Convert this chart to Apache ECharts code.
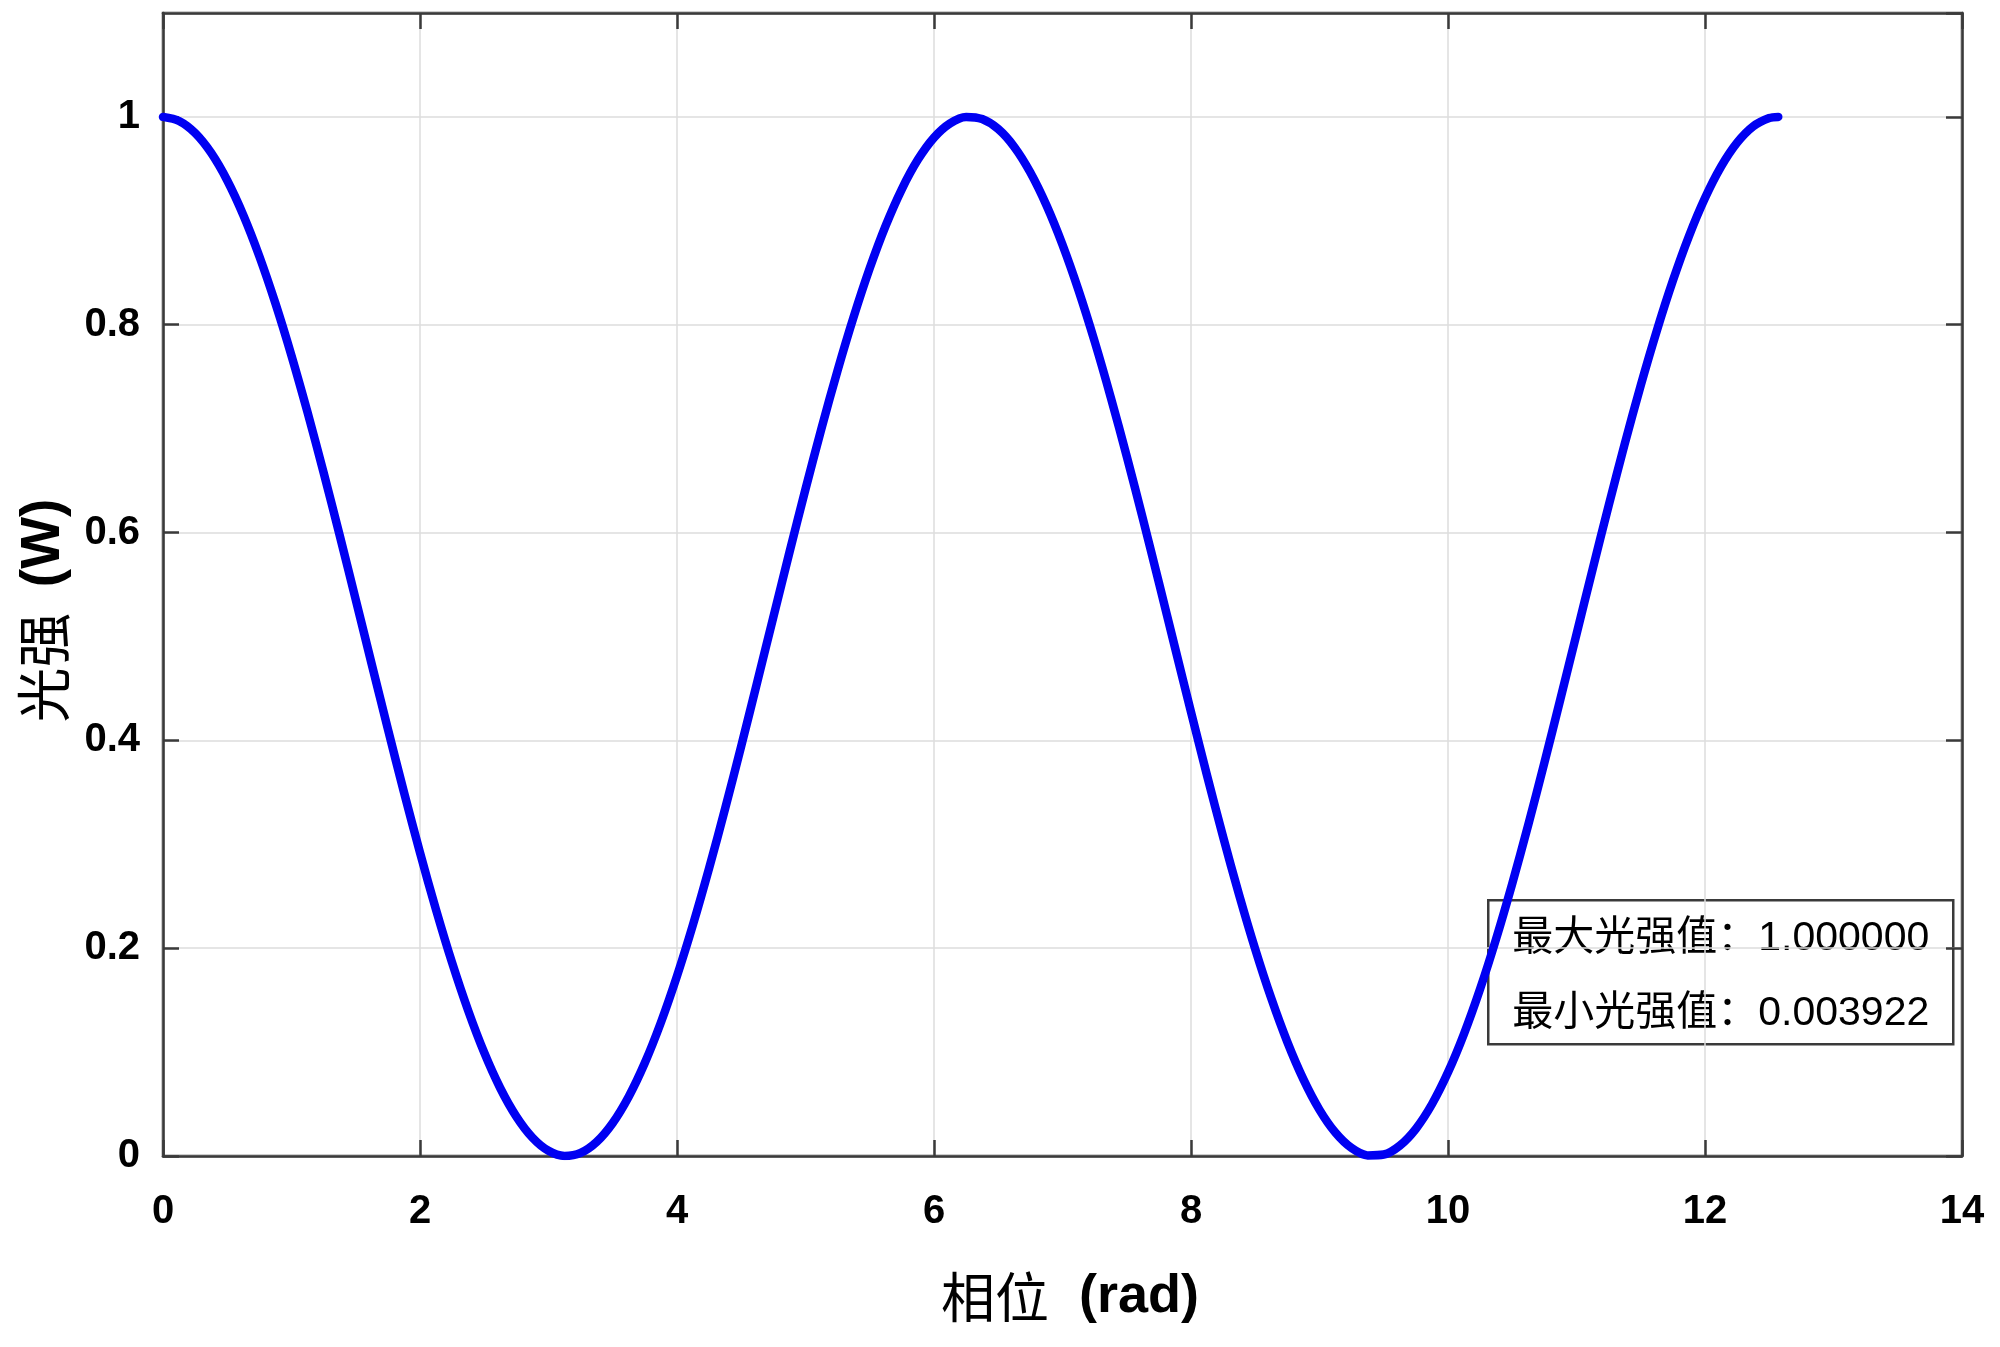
<!DOCTYPE html>
<html>
<head>
<meta charset="utf-8">
<style>
  html, body { margin: 0; padding: 0; background: #fff; }
  #chart { width: 2000px; height: 1347px; }
</style>
<script src="https://cdn.jsdelivr.net/npm/echarts@6/dist/echarts.min.js"></script>
</head>
<body>
<div id="chart"></div>
<script>
  // 相位 (rad)
  const phase = [
    0, 0.125, 0.25, 0.375, 0.5, 0.625, 0.75, 0.875, 1.0, 1.125, 1.25, 1.375, 1.5, 1.625, 1.75, 1.875,
    2.0, 2.125, 2.25, 2.375, 2.5, 2.625, 2.75, 2.875, 3.0, 3.125, 3.25, 3.375, 3.5, 3.625, 3.75, 3.875,
    4.0, 4.125, 4.25, 4.375, 4.5, 4.625, 4.75, 4.875, 5.0, 5.125, 5.25, 5.375, 5.5, 5.625, 5.75, 5.875,
    6.0, 6.125, 6.25, 6.375, 6.5, 6.625, 6.75, 6.875, 7.0, 7.125, 7.25, 7.375, 7.5, 7.625, 7.75, 7.875,
    8.0, 8.125, 8.25, 8.375, 8.5, 8.625, 8.75, 8.875, 9.0, 9.125, 9.25, 9.375, 9.5, 9.625, 9.75, 9.875,
    10.0, 10.125, 10.25, 10.375, 10.5, 10.625, 10.75, 10.875, 11.0, 11.125, 11.25, 11.375, 11.5, 11.625, 11.75, 11.875,
    12.0, 12.125, 12.25, 12.375, 12.5, 12.57];
  // 光强 (W)
  const intensity = [
    1.0, 0.9961, 0.9845, 0.9653, 0.9388, 0.9055, 0.8658, 0.8205, 0.7702, 0.7156, 0.6577, 0.5973, 0.5354, 0.4729, 0.4109, 0.3502,
    0.2919, 0.2369, 0.1859, 0.1399, 0.0994, 0.0652, 0.0379, 0.0177, 0.0050, 0.0001, 0.0030, 0.0136, 0.0318, 0.0573, 0.0897, 0.1286,
    0.1732, 0.2229, 0.2770, 0.3345, 0.3946, 0.4564, 0.5188, 0.5809, 0.6418, 0.7005, 0.7561, 0.8076, 0.8544, 0.8956, 0.9306, 0.9589,
    0.9801, 0.9938, 1.0, 0.9979, 0.9883, 0.9711, 0.9465, 0.9150, 0.8770, 0.8331, 0.7840, 0.7304, 0.6733, 0.6135, 0.5519, 0.4895,
    0.4273, 0.3661, 0.3071, 0.2511, 0.1990, 0.1516, 0.1096, 0.0737, 0.0444, 0.0223, 0.0076, 0.0006, 0.0014, 0.0100, 0.0262, 0.0498,
    0.0805, 0.1177, 0.1608, 0.2092, 0.2622, 0.3189, 0.3784, 0.4399, 0.5022, 0.5645, 0.6258, 0.6852, 0.7417, 0.7943, 0.8424, 0.8852,
    0.9219, 0.9521, 0.9752, 0.9909, 0.9989, 1.0];
  const infoLines = ['最大光强值：1.000000', '最小光强值：0.003922'];

  const chart = echarts.init(document.getElementById('chart'));

  const latin = "'Liberation Sans', Arial, 'Noto Sans CJK SC', sans-serif";
  const cjk = "'Noto Sans CJK SC', 'Liberation Sans', sans-serif";

  // 每个轴单独生成样式对象
  function axisLine() {
    return { show: true, onZero: false, lineStyle: { color: '#3a3a3a', width: 2.5 } };
  }
  function axisTick() {
    return { show: true, inside: true, length: 16, lineStyle: { color: '#3a3a3a', width: 2.5 } };
  }
  function gridLine() {
    return { show: true, lineStyle: { color: '#dcdcdc', width: 1.5 } };
  }
  function labelStyle(margin) {
    return { margin: margin, fontFamily: latin, fontSize: 40, fontWeight: 'bold', color: '#000' };
  }

  const data = phase.map((x, i) => [x, intensity[i]]);

  const option = {
    backgroundColor: '#fff',
    animation: false,
    grid: { left: 163, right: 38, top: 13, bottom: 191, show: true, borderColor: '#3a3a3a', borderWidth: 2.5, backgroundColor: '#fff' },
    xAxis: [{
      type: 'value', min: 0, max: 14, interval: 2,
      axisLine: axisLine(),
      axisTick: axisTick(),
      splitLine: gridLine(),
      axisLabel: labelStyle(36),
      name: '{cn|相位}{en|  (rad)}',
      nameLocation: 'middle',
      nameGap: 114,
      nameTextStyle: {
        padding: [0, 0, 0, 15],
        rich: {
          cn: { fontFamily: cjk, fontSize: 54, color: '#000' },
          en: { fontFamily: latin, fontSize: 54, fontWeight: 'bold', color: '#000' }
        }
      }
    }, {
      type: 'value', min: 0, max: 14, interval: 2, position: 'top',
      axisLine: axisLine(),
      axisTick: axisTick(), axisLabel: { show: false }, splitLine: { show: false }
    }],
    yAxis: [{
      type: 'value', min: 0, max: 1.1, interval: 0.2,
      axisLine: axisLine(),
      axisTick: axisTick(),
      splitLine: gridLine(),
      axisLabel: Object.assign(labelStyle(23), { showMaxLabel: false }),
      name: '{cn|光强}{en| (W)}',
      nameLocation: 'middle',
      nameGap: 92,
      nameRotate: 90,
      nameTextStyle: {
        padding: [0, 52, 0, 0],
        rich: {
          cn: { fontFamily: cjk, fontSize: 55, color: '#000' },
          en: { fontFamily: latin, fontSize: 55, fontWeight: 'bold', color: '#000', padding: [0, 0, 0, 10] }
        }
      }
    }, {
      type: 'value', min: 0, max: 1.1, interval: 0.2, position: 'right',
      axisLine: axisLine(),
      axisTick: axisTick(), axisLabel: { show: false }, splitLine: { show: false }
    }],
    series: [{
      type: 'line',
      data: data,
      showSymbol: false,
      smooth: 0.3,
      lineStyle: { color: '#0000f2', width: 8.5, cap: 'round', join: 'round' },
      z: 3
    }],
    graphic: [{
      type: 'group',
      left: 1487,
      top: 899,
      z: 10,
      children: [{
        type: 'rect',
        shape: { x: 0, y: 0, width: 465, height: 144 },
        style: { fill: '#fff', stroke: '#3a3a3a', lineWidth: 2.5 }
      }, {
        type: 'text',
        x: 24, y: 38,
        style: { text: infoLines[0], font: "41px " + latin, fill: '#000', verticalAlign: 'middle' }
      }, {
        type: 'text',
        x: 24, y: 113,
        style: { text: infoLines[1], font: "41px " + latin, fill: '#000', verticalAlign: 'middle' }
      }]
    }]
  };

  chart.setOption(option);
</script>
</body>
</html>
